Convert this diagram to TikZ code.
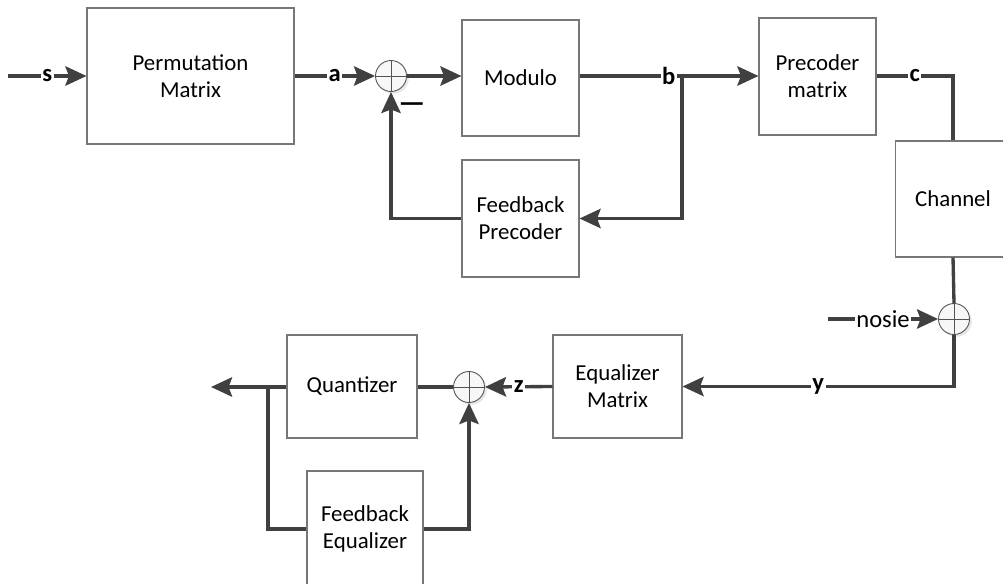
\documentclass[tikz,border=0pt]{standalone}
\usepackage{fontspec}
\setmainfont{Carlito}
\usetikzlibrary{arrows.meta,shadows}
\definecolor{wire}{HTML}{404040}
\definecolor{frame}{HTML}{777777}

\begin{document}
\begin{tikzpicture}[x=0.02cm,y=-0.02cm,
	blok/.style={draw=frame,line width=0.6pt,align=center,inner sep=0pt,
		font=\fontsize{13}{15.3}\selectfont},
	summer/.style={circle,draw=frame!70!black,line width=0.5pt,fill=gray!6,
		minimum size=0.62cm,inner sep=0pt,
		drop shadow={shadow xshift=1.3pt,shadow yshift=-1.3pt,opacity=0.2},
		path picture={\draw[frame!70!black,line width=0.5pt]
			(path picture bounding box.north) -- (path picture bounding box.south)
			(path picture bounding box.west) -- (path picture bounding box.east);}},
	sig/.style={draw=wire,line width=1.9pt},
	arr/.style={sig,-{Stealth[length=12pt,width=11pt,inset=2pt]}},
	lbl/.style={fill=white,inner sep=0.8pt,font=\fontsize{14}{16}\selectfont\bfseries}]
	\useasboundingbox (0,0) rectangle (1003,584);
	\clip (0,0) rectangle (1003,584);

	\node[blok,minimum width=4.14cm,minimum height=2.72cm] (perm) at (190.5,76) {Permutation\\Matrix};
	\node[blok,minimum width=2.34cm,minimum height=2.32cm] (modulo) at (520.5,78) {Modulo};
	\node[blok,minimum width=2.34cm,minimum height=2.34cm] (fbp) at (520.5,218.5) {Feedback\\Precoder};
	\node[blok,minimum width=2.34cm,minimum height=2.34cm] (prec) at (817.5,76.5) {Precoder\\matrix};
	\node[blok,minimum width=2.32cm,minimum height=2.32cm] (chan) at (953,199) {Channel};
	\node[blok,minimum width=2.58cm,minimum height=2.06cm] (eqm) at (617.5,386.5) {Equalizer\\Matrix};
	\node[blok,minimum width=2.60cm,minimum height=2.06cm] (quant) at (352,386.5) {Quantizer};
	\node[blok,minimum width=2.32cm,minimum height=2.32cm] (fbe) at (365,529) {Feedback\\Equalizer};

	\node[summer] (sum1) at (391,76) {};
	\node[summer] (sum2) at (954,319) {};
	\node[summer] (sum3) at (469,387) {};
	\node[font=\fontsize{17}{19}\selectfont\bfseries] (minus) at (412,108) {—};

	\coordinate (in) at (8,76);
	\coordinate (bsplit) at (682,76);
	\coordinate (cturn) at (953,76);
	\coordinate (nz) at (828,319);
	\coordinate (out) at (211,387);
	\coordinate (qsplit) at (268,387);

	\draw[arr] (in) -- node[lbl]{s} (perm.west);
	\draw[arr] (perm.east) -- node[lbl]{a} (sum1.west);
	\draw[arr] (sum1.east) -- (sum1.east -| modulo.west);
	\draw[sig] (modulo.east |- bsplit) -- node[lbl,pos=0.87]{b} (bsplit);
	\draw[arr] (bsplit) -- (prec.west |- bsplit);
	\draw[arr] (bsplit) |- (fbp.east);
	\draw[arr] (fbp.west) -| (sum1.south);
	\draw[sig] (prec.east |- cturn) -- node[lbl]{c} (cturn) -- (chan.north);
	\draw[sig] (chan.south) -- (sum2.north);
	\draw[arr] (nz) -- node[fill=white,inner sep=0.8pt,font=\fontsize{14}{16}\selectfont]{nosie} (sum2.west);
	\draw[arr] (sum2.south) |- node[lbl,pos=0.75]{y} (eqm.east);
	\draw[arr] (eqm.west) -- node[lbl]{z} (sum3.east);
	\draw[sig] (sum3.west) -- (quant.east |- sum3);
	\draw[arr] (quant.west |- qsplit) -- (out);
	\draw[sig] (qsplit) |- (fbe.west);
	\draw[arr] (fbe.east) -| (sum3.south);
\end{tikzpicture}
\end{document}
